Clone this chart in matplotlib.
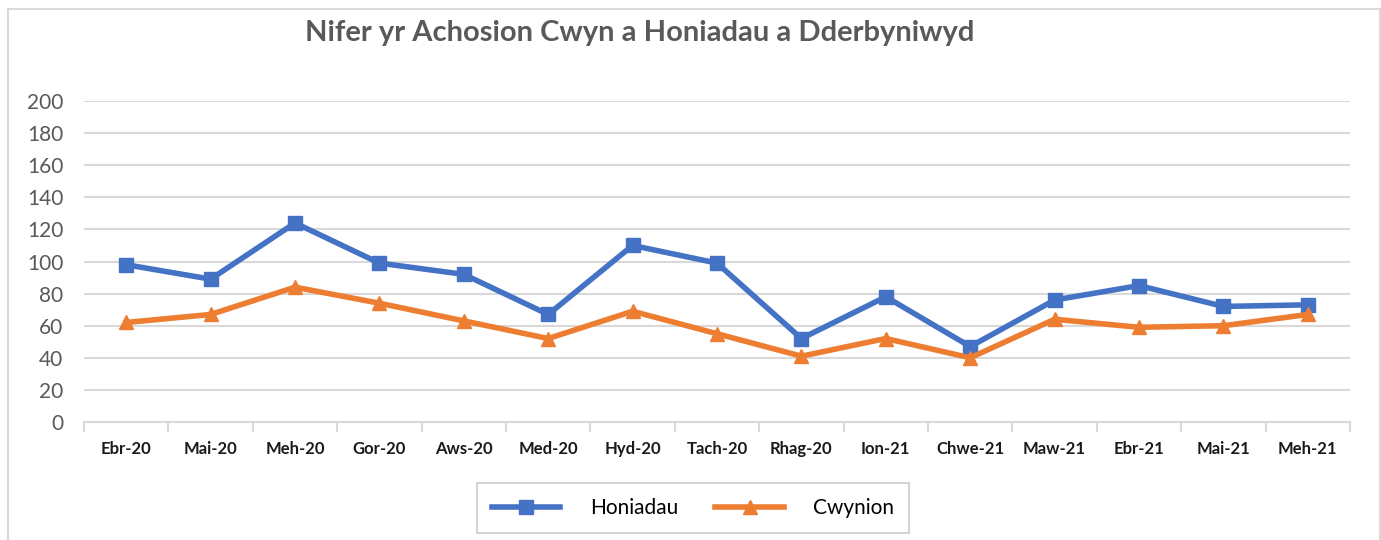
import matplotlib
matplotlib.use("Agg")
import matplotlib.pyplot as plt
from matplotlib.patches import Rectangle

months = ['Ebr-20', 'Mai-20', 'Meh-20', 'Gor-20', 'Aws-20', 'Med-20', 'Hyd-20', 'Tach-20',
          'Rhag-20', 'Ion-21', 'Chwe-21', 'Maw-21', 'Ebr-21', 'Mai-21', 'Meh-21']
honiadau = [98, 89, 124, 99, 92, 67, 110, 99, 52, 78, 47, 76, 85, 72, 73]
cwynion = [62, 67, 84, 74, 63, 52, 69, 55, 41, 52, 40, 64, 59, 60, 67]
y_ticks = [0, 20, 40, 60, 80, 100, 120, 140, 160, 180, 200]

plt.rcParams['font.family'] = ['Lato', 'DejaVu Sans']

W, H = 1381, 540
fig = plt.figure(figsize=(W / 100, H / 100), dpi=100)

# outer chart border like the excel chart frame (bottom edge runs off the picture)
fig.patches.append(Rectangle((8 / W, -0.05), (1380 - 8) / W, 1.05 - 9 / H,
                             transform=fig.transFigure, fill=False,
                             edgecolor='#d9d9d9', linewidth=1.5))

ax = fig.add_axes([84 / W, 1 - 422 / H, (1350 - 84) / W, (422 - 101) / H])

x = list(range(len(months)))
ax.plot(x, honiadau, color='#4472C4', linewidth=4, marker='s', markersize=10.5,
        label='Honiadau', zorder=3)
ax.plot(x, cwynion, color='#ED7D31', linewidth=4, marker='^', markersize=10.5,
        label='Cwynion', zorder=3)

ax.set_xlim(-0.5, len(months) - 0.5)
ax.set_ylim(0, 200)
ax.set_yticks(y_ticks)
ax.yaxis.grid(True, color='#d9d9d9', linewidth=1.5)
ax.set_axisbelow(True)

for s in ['top', 'right', 'left']:
    ax.spines[s].set_visible(False)
ax.spines['bottom'].set_color('#d9d9d9')
ax.spines['bottom'].set_linewidth(1.5)

ax.tick_params(axis='y', length=0, pad=15, labelsize=15, labelcolor='#595959')
ax.set_xticks([i - 0.5 for i in range(len(months) + 1)])
ax.set_xticklabels([])
ax.set_xticks(x, minor=True)
ax.set_xticklabels(months, minor=True, fontsize=12, fontweight='bold', color='#1a1a1a')
ax.tick_params(axis='x', which='major', length=7, width=1.5, color='#d9d9d9')
ax.tick_params(axis='x', which='minor', length=0, pad=14)

fig.text(640 / W, 1 - 33 / H, 'Nifer yr Achosion Cwyn a Honiadau a Dderbyniwyd',
         ha='center', va='center', fontsize=21, fontweight='bold', color='#595959')

leg = fig.legend(loc='center', bbox_to_anchor=(693 / W, 1 - 508 / H), ncol=2, fontsize=15,
                 frameon=True, fancybox=False, edgecolor='#c8c8c8', handlelength=3.3,
                 columnspacing=1.8, handletextpad=1.4, borderpad=0.7)
leg.get_frame().set_linewidth(1.5)

fig.savefig('out.png', dpi=100)
